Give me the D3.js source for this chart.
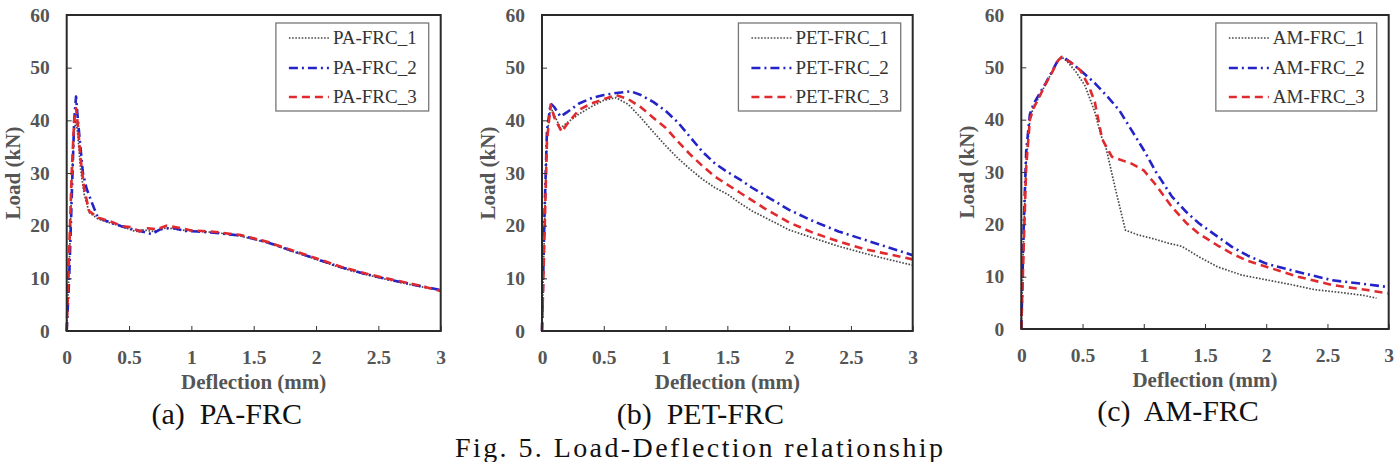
<!DOCTYPE html>
<html>
<head>
<meta charset="utf-8">
<script src="https://cdn.jsdelivr.net/npm/d3@7"></script>
<style>
  body { margin: 0; background: #fff; }
  text { font-family: "Liberation Serif", "Times New Roman", serif; }
</style>
</head>
<body>
<script>
/* Axis ticks */
const xTicks = [0, 0.5, 1, 1.5, 2, 2.5, 3];
const yTicks = [0, 10, 20, 30, 40, 50, 60];

/* (a) PA-FRC : [deflection mm, load kN] */
const paNames = ['PA-FRC_1', 'PA-FRC_2', 'PA-FRC_3'];
const pa1 = [[0,0],[0.02,12],[0.04,28],[0.06,38],[0.075,40],[0.09,37],[0.11,31],[0.14,26],[0.18,22.5],[0.25,21.3],[0.35,20.5],[0.45,19.8],[0.55,18.9],[0.62,19.2],[0.7,18.9],[0.8,19.6],[0.9,19.2],[1.0,19.0],[1.2,18.7],[1.4,18.0],[1.6,16.8],[1.8,15.2],[2.0,13.6],[2.2,12.0],[2.4,10.7],[2.6,9.6],[2.8,8.6],[3.0,7.7]];
const pa2 = [[0,0],[0.02,10],[0.04,25],[0.06,40],[0.075,44.5],[0.09,40],[0.11,35],[0.13,30],[0.16,27],[0.2,24.5],[0.25,21.5],[0.35,20.6],[0.45,19.8],[0.55,19.2],[0.62,18.8],[0.68,18.4],[0.75,19.3],[0.85,19.6],[0.95,19.0],[1.05,18.9],[1.2,18.6],[1.4,18.1],[1.6,16.9],[1.8,15.3],[2.0,13.7],[2.2,12.1],[2.4,10.8],[2.6,9.7],[2.8,8.7],[3.0,7.8]];
const pa3 = [[0,0],[0.02,15],[0.04,30],[0.06,40],[0.075,42.3],[0.09,39],[0.11,33],[0.14,27],[0.18,22.8],[0.25,21.5],[0.35,20.8],[0.45,19.9],[0.52,19.7],[0.58,18.9],[0.65,19.5],[0.72,19.3],[0.8,20.0],[0.9,19.6],[1.0,19.1],[1.2,18.8],[1.4,18.2],[1.6,17.0],[1.8,15.4],[2.0,13.8],[2.2,12.2],[2.4,10.9],[2.6,9.8],[2.8,8.8],[3.0,7.6]];

/* (b) PET-FRC */
const petNames = ['PET-FRC_1', 'PET-FRC_2', 'PET-FRC_3'];
const pet1 = [[0,0],[0.02,20],[0.04,37],[0.07,42.5],[0.1,41],[0.15,38.5],[0.2,39.5],[0.3,41.2],[0.4,42.6],[0.5,43.8],[0.6,44.3],[0.7,43],[0.8,40.5],[0.9,37.8],[1.0,35.2],[1.1,32.8],[1.2,30.7],[1.3,28.8],[1.4,27.2],[1.5,26],[1.6,24.3],[1.7,22.8],[1.8,21.6],[2.0,19.2],[2.2,17.6],[2.4,16.1],[2.6,14.8],[2.8,13.6],[3.0,12.5]];
const pet2 = [[0,0],[0.02,22],[0.04,38],[0.07,43.2],[0.1,42.5],[0.15,40.7],[0.2,41.5],[0.3,43.2],[0.4,44.2],[0.5,44.8],[0.6,45.2],[0.72,45.5],[0.8,44.8],[0.9,43.5],[1.0,41.8],[1.1,39.6],[1.2,36.8],[1.3,34],[1.4,31.8],[1.5,30.2],[1.6,28.8],[1.7,27.2],[1.8,25.8],[2.0,23],[2.2,20.8],[2.4,18.9],[2.6,17.4],[2.8,15.9],[3.0,14.4]];
const pet3 = [[0,0],[0.02,18],[0.04,36],[0.07,43],[0.1,40.5],[0.16,37.8],[0.2,39.2],[0.3,42],[0.4,43.2],[0.5,44],[0.6,44.8],[0.7,44],[0.8,42.5],[0.9,40.5],[1.0,38.6],[1.1,36],[1.2,33.5],[1.3,31.3],[1.4,29.3],[1.5,27.8],[1.6,26.3],[1.7,24.8],[1.8,23.3],[2.0,20.6],[2.2,18.6],[2.4,17],[2.6,15.6],[2.8,14.6],[3.0,13.6]];

/* (c) AM-FRC */
const amNames = ['AM-FRC_1', 'AM-FRC_2', 'AM-FRC_3'];
const am1 = [[0,0],[0.02,18],[0.04,32],[0.07,40],[0.1,42.5],[0.15,44.5],[0.2,46.9],[0.25,49],[0.3,51.3],[0.33,52],[0.38,51],[0.45,49],[0.52,46.5],[0.6,41.5],[0.65,37],[0.69,34.8],[0.77,26.6],[0.85,18.9],[0.95,18],[1.07,17.3],[1.2,16.4],[1.31,15.8],[1.45,13.8],[1.6,11.9],[1.8,10.3],[2.0,9.4],[2.2,8.5],[2.4,7.5],[2.6,7],[2.8,6.4],[2.9,5.9]];
const am2 = [[0,0],[0.02,20],[0.04,34],[0.07,41],[0.1,43],[0.15,45],[0.2,47],[0.25,49.2],[0.3,51.4],[0.34,52],[0.4,51],[0.48,49.5],[0.6,47],[0.7,44.5],[0.8,41.8],[0.9,38],[1.0,34.2],[1.1,30],[1.23,25.3],[1.35,22.3],[1.45,20.2],[1.6,17.7],[1.72,15.7],[1.85,14],[2.0,12.5],[2.26,10.9],[2.54,9.3],[2.8,8.6],[3.0,8]];
const am3 = [[0,0],[0.02,16],[0.04,31],[0.07,40],[0.1,42.2],[0.15,44.5],[0.2,46.9],[0.25,49],[0.3,51.3],[0.33,52],[0.4,51],[0.48,49.5],[0.55,46.5],[0.6,43.4],[0.66,36.3],[0.74,32.9],[0.9,31.6],[1.0,30.3],[1.1,27.5],[1.23,23.3],[1.35,20.2],[1.45,18.2],[1.6,16],[1.72,14.4],[1.85,13],[2.0,11.9],[2.26,10],[2.54,8.4],[2.81,7.5],[3.0,6.8]];

/* Line styles: dotted grey, dash-dot blue, dashed red */
const styles = [
    { color: '#4a4a4a', width: 1.7, dash: '1.6,1.6' },
    { color: '#2323c8', width: 2.6, dash: '9,4,2,4' },
    { color: '#e02a2e', width: 2.6, dash: '8,5' },
];

/* Panel layout */
const panels = [
    { left: 66.7, right: 440.7, top: 15, bottom: 331, caption: '(a)  PA-FRC', capY: 424, names: paNames, series: [pa1, pa2, pa3] },
    { left: 542, right: 912.7, top: 15, bottom: 331, caption: '(b)  PET-FRC', capY: 424, names: petNames, series: [pet1, pet2, pet3] },
    { left: 1021.3, right: 1388.7, top: 15, bottom: 329, caption: '(c)  AM-FRC', capY: 421, names: amNames, series: [am1, am2, am3] },
];

const svg = d3.select('body')
    .append('svg')
    .attr('width', 1398)
    .attr('height', 462)
    .style('background', '#fff');

panels.forEach(p => {
    const x = d3.scaleLinear().domain([0, 3]).range([p.left, p.right]);
    const y = d3.scaleLinear().domain([0, 60]).range([p.bottom, p.top]);
    const g = svg.append('g');

    // curves
    const line = d3.line().x(d => x(d[0])).y(d => y(d[1]));
    p.series.forEach((s, i) => {
        g.append('path')
            .datum(s)
            .attr('d', line)
            .attr('fill', 'none')
            .attr('stroke', styles[i].color)
            .attr('stroke-width', styles[i].width)
            .attr('stroke-dasharray', styles[i].dash)
            .attr('stroke-linejoin', 'round');
    });

    // axes, ticks pointing inward
    const xAxis = g.append('g')
        .attr('transform', `translate(0,${p.bottom})`)
        .call(d3.axisBottom(x).tickValues(xTicks).tickSize(-5).tickPadding(19).tickFormat(d3.format('~g')));
    const yAxis = g.append('g')
        .attr('transform', `translate(${p.left},0)`)
        .call(d3.axisLeft(y).tickValues(yTicks).tickSize(-5).tickPadding(17));
    [xAxis, yAxis].forEach(a => {
        a.select('.domain').remove();
        a.selectAll('line').attr('stroke', '#333');
        a.selectAll('text')
            .attr('font-size', 19.5)
            .attr('font-weight', 'bold')
            .attr('fill', '#555');
    });

    // frame
    g.append('rect')
        .attr('x', p.left)
        .attr('y', p.top)
        .attr('width', p.right - p.left)
        .attr('height', p.bottom - p.top)
        .attr('fill', 'none')
        .attr('stroke', '#2a2a2a')
        .attr('stroke-width', 2);

    // axis titles
    g.append('text')
        .attr('x', (p.left + p.right) / 2)
        .attr('y', p.bottom + 58)
        .attr('text-anchor', 'middle')
        .attr('font-size', 21)
        .attr('font-weight', 'bold')
        .attr('fill', '#555')
        .text('Deflection (mm)');
    g.append('text')
        .attr('transform', `translate(${p.left - 47},${(p.top + p.bottom) / 2}) rotate(-90)`)
        .attr('text-anchor', 'middle')
        .attr('font-size', 21)
        .attr('font-weight', 'bold')
        .attr('fill', '#555')
        .text('Load (kN)');

    // legend
    const lg = g.append('g');
    const box = lg.append('rect');
    const rows = [38, 68, 97];
    const texts = p.names.map((n, i) => {
        lg.append('line')
            .attr('x1', 13).attr('x2', 53)
            .attr('y1', rows[i]).attr('y2', rows[i])
            .attr('stroke', styles[i].color)
            .attr('stroke-width', styles[i].width)
            .attr('stroke-dasharray', styles[i].dash);
        return lg.append('text')
            .attr('x', 57)
            .attr('y', rows[i] + 6)
            .attr('font-size', 19)
            .attr('fill', '#333')
            .text(n);
    });
    const tw = d3.max(texts, t => t.node().getComputedTextLength());
    const bw = 57 + tw + 12;
    box.attr('x', 0).attr('y', 23).attr('width', bw).attr('height', 88)
        .attr('fill', '#fff').attr('stroke', '#777').attr('stroke-width', 1.3);
    lg.attr('transform', `translate(${p.right - 12 - bw},0)`);

    // sub-caption
    svg.append('text')
        .attr('x', (p.left + p.right) / 2 - 27)
        .attr('y', p.capY)
        .attr('text-anchor', 'middle')
        .attr('font-size', 30)
        .attr('fill', '#111')
        .style('white-space', 'pre')
        .text(p.caption);
});

svg.append('text')
    .attr('x', 455)
    .attr('y', 457)
    .attr('font-size', 28)
    .attr('fill', '#111')
    .attr('textLength', 488)
    .attr('lengthAdjust', 'spacing')
    .text('Fig. 5. Load-Deflection relationship');
</script>
</body>
</html>
